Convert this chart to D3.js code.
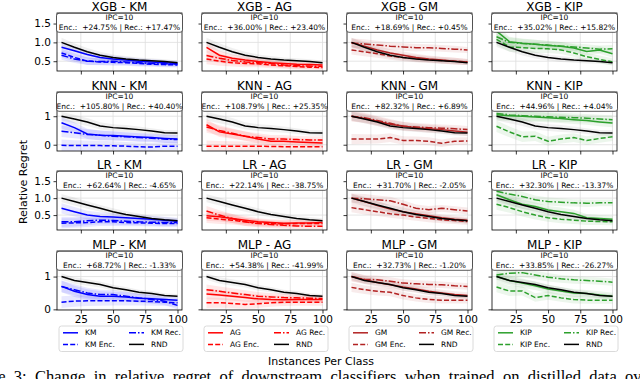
<!DOCTYPE html>
<html>
<head>
<meta charset="utf-8">
<script src="https://cdn.jsdelivr.net/npm/d3@7"></script>
<style>
  body { margin: 0; background: #fff; }
  svg { display: block; font-family: "DejaVu Sans", sans-serif; font-weight: 400; }
</style>
</head>
<body>
<svg id="chart" width="640" height="379"></svg>
<script>
const xs = [10, 20, 30, 40, 50, 60, 70, 80, 90, 100];
const classifiers = ["XGB", "KNN", "LR", "MLP"];
const methods = ["KM", "AG", "GM", "KIP"];
const methodColors = ["#0000ff", "#ff0000", "#b22222", "#2ca02c"];
const xTicks = [25, 50, 75, 100];
const yTicks = [[0.5, 1, 1.5], [0, 1], [0.5, 1, 1.5], [0, 1]];
const yFormats = [".1f", "d", ".1f", "d"];
const yDomains = [[0.24, 1.78], [-0.22, 1.85], [0.06, 1.8], [-0.02, 1.78]];

// random baseline (black) for each classifier, with its spread
const rndXGB = [1.0, 0.87, 0.75, 0.66, 0.6, 0.56, 0.53, 0.51, 0.49, 0.46];
const rndKNN = [1.0, 0.9, 0.8, 0.66, 0.6, 0.57, 0.53, 0.48, 0.42, 0.41];
const rndLR = [1.0, 0.9, 0.8, 0.7, 0.6, 0.52, 0.46, 0.4, 0.36, 0.33];
const rndMLP = [1.0, 0.88, 0.82, 0.76, 0.66, 0.6, 0.52, 0.48, 0.42, 0.4];
const rndSdXGB = [0.12, 0.11, 0.1, 0.09, 0.08, 0.08, 0.07, 0.07, 0.06, 0.06];
const rndSdKNN = [0.15, 0.15, 0.14, 0.13, 0.12, 0.12, 0.11, 0.1, 0.1, 0.1];
const rndSdLR = [0.12, 0.12, 0.11, 0.1, 0.1, 0.09, 0.09, 0.08, 0.08, 0.08];
const rndSdMLP = [0.1, 0.1, 0.1, 0.09, 0.09, 0.08, 0.08, 0.08, 0.07, 0.07];

// distilled method: plain, encoded, recovered, spread
const xgbKM = {
  main: [0.87, 0.78, 0.68, 0.6, 0.56, 0.53, 0.5, 0.48, 0.46, 0.44],
  enc: [0.72, 0.6, 0.5, 0.48, 0.47, 0.46, 0.44, 0.42, 0.41, 0.4],
  rec: [0.66, 0.56, 0.5, 0.49, 0.5, 0.48, 0.46, 0.44, 0.43, 0.42],
  sd: [0.12, 0.11, 0.1, 0.09, 0.09, 0.08, 0.08, 0.07, 0.07, 0.07],
};
const xgbAG = {
  main: [0.87, 0.66, 0.58, 0.53, 0.49, 0.46, 0.44, 0.42, 0.41, 0.4],
  enc: [0.56, 0.5, 0.46, 0.44, 0.43, 0.4, 0.38, 0.36, 0.34, 0.33],
  rec: [0.65, 0.58, 0.52, 0.48, 0.46, 0.44, 0.4, 0.38, 0.37, 0.36],
  sd: [0.14, 0.12, 0.1, 0.1, 0.09, 0.09, 0.08, 0.08, 0.07, 0.07],
};
const xgbGM = {
  main: [1.0, 0.9, 0.8, 0.72, 0.66, 0.6, 0.56, 0.53, 0.5, 0.48],
  enc: [0.8, 0.75, 0.7, 0.64, 0.6, 0.57, 0.54, 0.52, 0.5, 0.48],
  rec: [0.98, 0.96, 0.93, 0.9, 0.88, 0.86, 0.86, 0.84, 0.82, 0.8],
  sd: [0.12, 0.12, 0.11, 0.1, 0.1, 0.1, 0.09, 0.09, 0.09, 0.08],
};
const xgbKIP = {
  main: [1.3, 1.02, 0.98, 0.95, 0.92, 0.9, 0.85, 0.76, 0.8, 0.7],
  enc: [1.08, 0.88, 0.86, 0.84, 0.83, 0.8, 0.72, 0.62, 0.55, 0.48],
  rec: [1.15, 1.0, 0.97, 0.95, 0.93, 0.9, 0.88, 0.85, 0.82, 0.83],
  sd: [0.15, 0.13, 0.12, 0.12, 0.11, 0.11, 0.1, 0.1, 0.1, 0.1],
};
const knnKM = {
  main: [0.77, 0.6, 0.38, 0.33, 0.32, 0.3, 0.27, 0.25, 0.22, 0.2],
  enc: [-0.02, -0.03, -0.03, -0.03, -0.04, -0.05, -0.07, -0.08, -0.05, -0.05],
  rec: [0.47, 0.42, 0.36, 0.33, 0.3, 0.28, 0.25, 0.23, 0.2, 0.18],
  sd: [0.2, 0.19, 0.18, 0.17, 0.16, 0.15, 0.15, 0.14, 0.14, 0.14],
};
const knnAG = {
  main: [0.7, 0.45, 0.38, 0.3, 0.2, 0.12, 0.12, 0.1, 0.08, 0.06],
  enc: [-0.05, -0.05, -0.05, -0.05, -0.05, -0.06, -0.07, -0.07, -0.07, -0.07],
  rec: [0.62, 0.5, 0.4, 0.3, 0.25, 0.2, 0.2, 0.18, 0.17, 0.17],
  sd: [0.2, 0.18, 0.17, 0.16, 0.15, 0.14, 0.14, 0.13, 0.13, 0.13],
};
const knnGM = {
  main: [1.0, 0.92, 0.82, 0.72, 0.66, 0.6, 0.56, 0.53, 0.48, 0.44],
  enc: [0.2, 0.2, 0.2, 0.25, 0.15, 0.15, 0.12, 0.05, 0.12, 0.13],
  rec: [1.0, 0.95, 0.85, 0.75, 0.65, 0.62, 0.6, 0.58, 0.56, 0.53],
  sd: [0.18, 0.17, 0.16, 0.15, 0.15, 0.14, 0.14, 0.13, 0.13, 0.13],
};
const knnKIP = {
  main: [1.05, 1.02, 1.0, 0.97, 0.95, 0.92, 0.88, 0.85, 0.8, 0.76],
  enc: [0.65, 0.45, 0.28, 0.3, 0.12, 0.2, 0.25, 0.15, 0.22, 0.28],
  rec: [1.1, 1.05, 1.02, 1.0, 0.98, 0.96, 0.95, 0.93, 0.9, 0.88],
  sd: [0.2, 0.19, 0.18, 0.17, 0.16, 0.16, 0.15, 0.15, 0.15, 0.15],
};
const lrKM = {
  main: [0.7, 0.6, 0.5, 0.46, 0.44, 0.42, 0.4, 0.38, 0.35, 0.32],
  enc: [0.26, 0.27, 0.28, 0.3, 0.3, 0.28, 0.27, 0.26, 0.25, 0.25],
  rec: [0.3, 0.3, 0.33, 0.35, 0.34, 0.32, 0.3, 0.29, 0.28, 0.28],
  sd: [0.15, 0.14, 0.13, 0.12, 0.12, 0.11, 0.1, 0.1, 0.1, 0.1],
};
const lrAG = {
  main: [0.48, 0.45, 0.4, 0.35, 0.3, 0.28, 0.26, 0.27, 0.27, 0.28],
  enc: [0.42, 0.38, 0.35, 0.3, 0.27, 0.25, 0.24, 0.25, 0.25, 0.25],
  rec: [0.62, 0.5, 0.4, 0.3, 0.25, 0.22, 0.2, 0.18, 0.17, 0.17],
  sd: [0.15, 0.14, 0.13, 0.12, 0.11, 0.1, 0.1, 0.1, 0.09, 0.09],
};
const lrGM = {
  main: [1.0, 0.9, 0.78, 0.68, 0.6, 0.54, 0.48, 0.42, 0.38, 0.35],
  enc: [0.72, 0.66, 0.6, 0.54, 0.5, 0.44, 0.4, 0.36, 0.34, 0.31],
  rec: [1.0, 0.98, 0.95, 0.92, 0.82, 0.7, 0.66, 0.7, 0.66, 0.62],
  sd: [0.14, 0.14, 0.13, 0.12, 0.12, 0.11, 0.11, 0.1, 0.1, 0.1],
};
const lrKIP = {
  main: [1.1, 0.95, 0.82, 0.75, 0.65, 0.6, 0.55, 0.42, 0.4, 0.38],
  enc: [0.82, 0.72, 0.6, 0.5, 0.42, 0.38, 0.35, 0.32, 0.31, 0.3],
  rec: [1.2, 1.12, 1.05, 0.95, 0.9, 0.88, 0.86, 0.85, 0.86, 0.86],
  sd: [0.16, 0.15, 0.14, 0.13, 0.12, 0.12, 0.11, 0.11, 0.1, 0.1],
};
const mlpKM = {
  main: [0.7, 0.55, 0.45, 0.4, 0.4, 0.38, 0.34, 0.32, 0.3, 0.28],
  enc: [0.22, 0.25, 0.26, 0.26, 0.26, 0.26, 0.25, 0.24, 0.22, 0.2],
  rec: [0.7, 0.6, 0.5, 0.45, 0.45, 0.4, 0.35, 0.3, 0.25, 0.12],
  sd: [0.18, 0.17, 0.16, 0.15, 0.14, 0.14, 0.13, 0.13, 0.12, 0.12],
};
const mlpAG = {
  main: [0.47, 0.44, 0.4, 0.36, 0.32, 0.3, 0.29, 0.3, 0.3, 0.3],
  enc: [0.2, 0.2, 0.18, 0.15, 0.17, 0.2, 0.22, 0.22, 0.22, 0.22],
  rec: [0.6, 0.55, 0.5, 0.45, 0.4, 0.38, 0.36, 0.35, 0.34, 0.33],
  sd: [0.16, 0.15, 0.14, 0.13, 0.13, 0.12, 0.12, 0.11, 0.11, 0.11],
};
const mlpGM = {
  main: [1.0, 0.9, 0.82, 0.75, 0.68, 0.62, 0.55, 0.5, 0.45, 0.42],
  enc: [0.67, 0.6, 0.55, 0.52, 0.42, 0.35, 0.3, 0.28, 0.28, 0.28],
  rec: [1.0, 0.92, 0.9, 0.86, 0.8, 0.78, 0.76, 0.75, 0.72, 0.7],
  sd: [0.14, 0.13, 0.13, 0.12, 0.12, 0.11, 0.11, 0.1, 0.1, 0.1],
};
const mlpKIP = {
  main: [1.0, 0.88, 0.8, 0.72, 0.62, 0.56, 0.5, 0.48, 0.44, 0.4],
  enc: [0.68, 0.56, 0.56, 0.36, 0.42, 0.35, 0.3, 0.28, 0.28, 0.28],
  rec: [1.05, 1.1, 1.12, 1.05, 0.98, 0.93, 0.9, 0.88, 0.86, 0.83],
  sd: [0.16, 0.15, 0.14, 0.13, 0.13, 0.12, 0.12, 0.11, 0.11, 0.11],
};

const encGain = [
  ["+24.75%", "+36.00%", "+18.69%", "+35.02%"],
  ["+105.80%", "+108.79%", "+82.32%", "+44.96%"],
  ["+62.64%", "+22.14%", "+31.70%", "+32.30%"],
  ["+68.72%", "+54.38%", "+32.73%", "+33.85%"],
];
const recGain = [
  ["+17.47%", "+23.40%", "+0.45%", "+15.82%"],
  ["+40.40%", "+25.35%", "+6.89%", "+4.04%"],
  ["-4.65%", "-38.75%", "-2.05%", "-13.37%"],
  ["-1.33%", "-41.99%", "-1.20%", "-26.27%"],
];
const caption = "Figure 3: Change in relative regret of downstream classifiers when trained on distilled data over";

const rnd = [rndXGB, rndKNN, rndLR, rndMLP];
const rndSd = [rndSdXGB, rndSdKNN, rndSdLR, rndSdMLP];
const panels = [
  [xgbKM, xgbAG, xgbGM, xgbKIP],
  [knnKM, knnAG, knnGM, knnKIP],
  [lrKM, lrAG, lrGM, lrKIP],
  [mlpKM, mlpAG, mlpGM, mlpKIP],
];

// layout
const colLeft = [57, 202, 347, 492];
const rowTop = [13, 92, 171, 251];
const pw = 125;
const ph = 59;
const dashes = { main: null, enc: "5,2.2", rec: "7,2,1.5,2" };

const svg = d3.select("#chart");
const x = d3.scaleLinear([6.5, 103.5], [0, pw]);

const layer = (el, tag, cls, data) =>
  el.selectAll(`${tag}.${cls}`).data(data).join(tag).attr("class", cls);

classifiers.forEach((clf, r) => {
  const y = d3.scaleLinear(yDomains[r], [rowTop[r] === 13 ? ph - 1 : ph, 0]);
  const hh = rowTop[r] === 13 ? ph - 1 : ph;
  methods.forEach((m, c) => {
    const p = panels[r][c];
    const color = methodColors[c];
    const g = svg.append("g").attr("transform", `translate(${colLeft[c]},${rowTop[r]})`);
    const clipId = `clip-${r}-${c}`;
    g.append("clipPath").attr("id", clipId).append("rect").attr("width", pw).attr("height", hh);

    // grid
    layer(g, "line", "gx", xTicks)
      .attr("x1", (d) => x(d)).attr("x2", (d) => x(d))
      .attr("y1", 0).attr("y2", hh)
      .attr("stroke", "#dedede").attr("stroke-width", 0.8);
    layer(g, "line", "gy", yTicks[r])
      .attr("x1", 0).attr("x2", pw)
      .attr("y1", (d) => y(d)).attr("y2", (d) => y(d))
      .attr("stroke", "#dedede").attr("stroke-width", 0.8);

    const body = g.append("g").attr("clip-path", `url(#${clipId})`);
    const area = (vals, sd) =>
      d3.area().x((d, i) => x(xs[i])).y0((d, i) => y(vals[i] - sd[i])).y1((d, i) => y(vals[i] + sd[i]))(vals);
    const line = (vals) => d3.line().x((d, i) => x(xs[i])).y((d) => y(d))(vals);

    ["main", "enc", "rec"].forEach((k) =>
      body.append("path").attr("d", area(p[k], p.sd)).attr("fill", color).attr("fill-opacity", 0.09));
    body.append("path").attr("d", area(rnd[r], rndSd[r])).attr("fill", "#000").attr("fill-opacity", 0.06);

    ["enc", "rec", "main"].forEach((k) =>
      body.append("path").attr("d", line(p[k]))
        .attr("fill", "none").attr("stroke", color).attr("stroke-width", 1.5)
        .attr("stroke-dasharray", dashes[k]));
    body.append("path").attr("d", line(rnd[r]))
      .attr("fill", "none").attr("stroke", "#000").attr("stroke-width", 1.5);

    // axes
    const ax = g.append("g").attr("transform", `translate(0,${hh})`)
      .call(d3.axisBottom(x).tickValues(xTicks).tickSize(3.5).tickSizeOuter(0)
        .tickFormat(r === 3 ? d3.format("d") : () => ""));
    const ay = g.append("g")
      .call(d3.axisLeft(y).tickValues(yTicks[r]).tickSize(3.5).tickSizeOuter(0)
        .tickFormat(c === 0 ? d3.format(yFormats[r]) : () => ""));
    [ax, ay].forEach((a) => {
      a.select(".domain").remove();
      a.selectAll("text").attr("font-size", 10.5).attr("font-family", "DejaVu Sans").attr("fill", "#000");
      a.selectAll("line").attr("stroke", "#000").attr("stroke-width", 0.8);
    });
    ax.selectAll("text").attr("dy", "0.71em").attr("y", 6);
    ay.selectAll("text").attr("x", -6);

    g.append("rect").attr("width", pw).attr("height", hh)
      .attr("fill", "none").attr("stroke", "#000").attr("stroke-width", 0.8);

    // annotation box
    g.append("rect").attr("x", -0.5).attr("y", 0.3).attr("width", pw + 1).attr("height", 19)
      .attr("rx", 2.5).attr("fill", "#fff").attr("stroke", "#333").attr("stroke-width", 0.8);
    g.append("text").attr("x", pw / 2).attr("y", 7.4).attr("text-anchor", "middle")
      .attr("font-size", 7.5).text("IPC=10");
    g.append("text").attr("x", pw / 2).attr("y", 16.6).attr("text-anchor", "middle")
      .attr("font-size", 7.5).style("white-space", "pre")
      .text(`Enc.:  ${encGain[r][c]} | Rec.: ${recGain[r][c]}`);

    g.append("text").attr("x", pw / 2).attr("y", -2.2).attr("text-anchor", "middle")
      .attr("font-size", 12).text(`${clf} - ${m}`);
  });
});

// legends under each column
methods.forEach((m, c) => {
  const lg = svg.append("g").attr("transform", `translate(${colLeft[c] + 2},326)`);
  lg.append("rect").attr("width", 124).attr("height", 25.5).attr("rx", 2.5)
    .attr("fill", "#fff").attr("stroke", "#d0d0d0").attr("stroke-width", 0.8);
  const entries = [
    { label: m, color: methodColors[c], dash: null, col: 0, row: 0 },
    { label: `${m} Enc.`, color: methodColors[c], dash: dashes.enc, col: 0, row: 1 },
    { label: `${m} Rec.`, color: methodColors[c], dash: dashes.rec, col: 1, row: 0 },
    { label: "RND", color: "#000", dash: null, col: 1, row: 1 },
  ];
  const e = layer(lg, "g", "entry", entries)
    .attr("transform", (d) => `translate(${4 + d.col * 66},${6.8 + d.row * 11.6})`);
  e.append("line").attr("x1", 0).attr("x2", 15)
    .attr("stroke", (d) => d.color).attr("stroke-width", 1.5).attr("stroke-dasharray", (d) => d.dash);
  e.append("text").attr("x", 22).attr("dy", "0.35em").attr("font-size", 7.5).text((d) => d.label);
});

svg.append("text").attr("x", 321).attr("y", 365).attr("text-anchor", "middle")
  .attr("font-size", 11).text("Instances Per Class");
svg.append("text").attr("transform", "translate(27,182) rotate(-90)").attr("text-anchor", "middle")
  .attr("font-size", 11).text("Relative Regret");

// caption, cut by the bottom edge
const cap = svg.append("text").attr("x", 0).attr("y", 382)
  .style("font-family", '"Liberation Serif", "DejaVu Serif", serif').attr("font-size", 16.5).text(caption);
const capNode = cap.node();
const iChange = caption.indexOf("Change");
const iOver = caption.lastIndexOf("over");
const span0 = capNode.getStartPositionOfChar(iOver).x - capNode.getStartPositionOfChar(iChange).x;
const nSpaces = caption.slice(iChange, iOver).split(" ").length - 1;
cap.attr("word-spacing", (625 - 35 - span0) / nSpaces);
cap.attr("x", 35 - capNode.getStartPositionOfChar(iChange).x);
</script>
</body>
</html>
